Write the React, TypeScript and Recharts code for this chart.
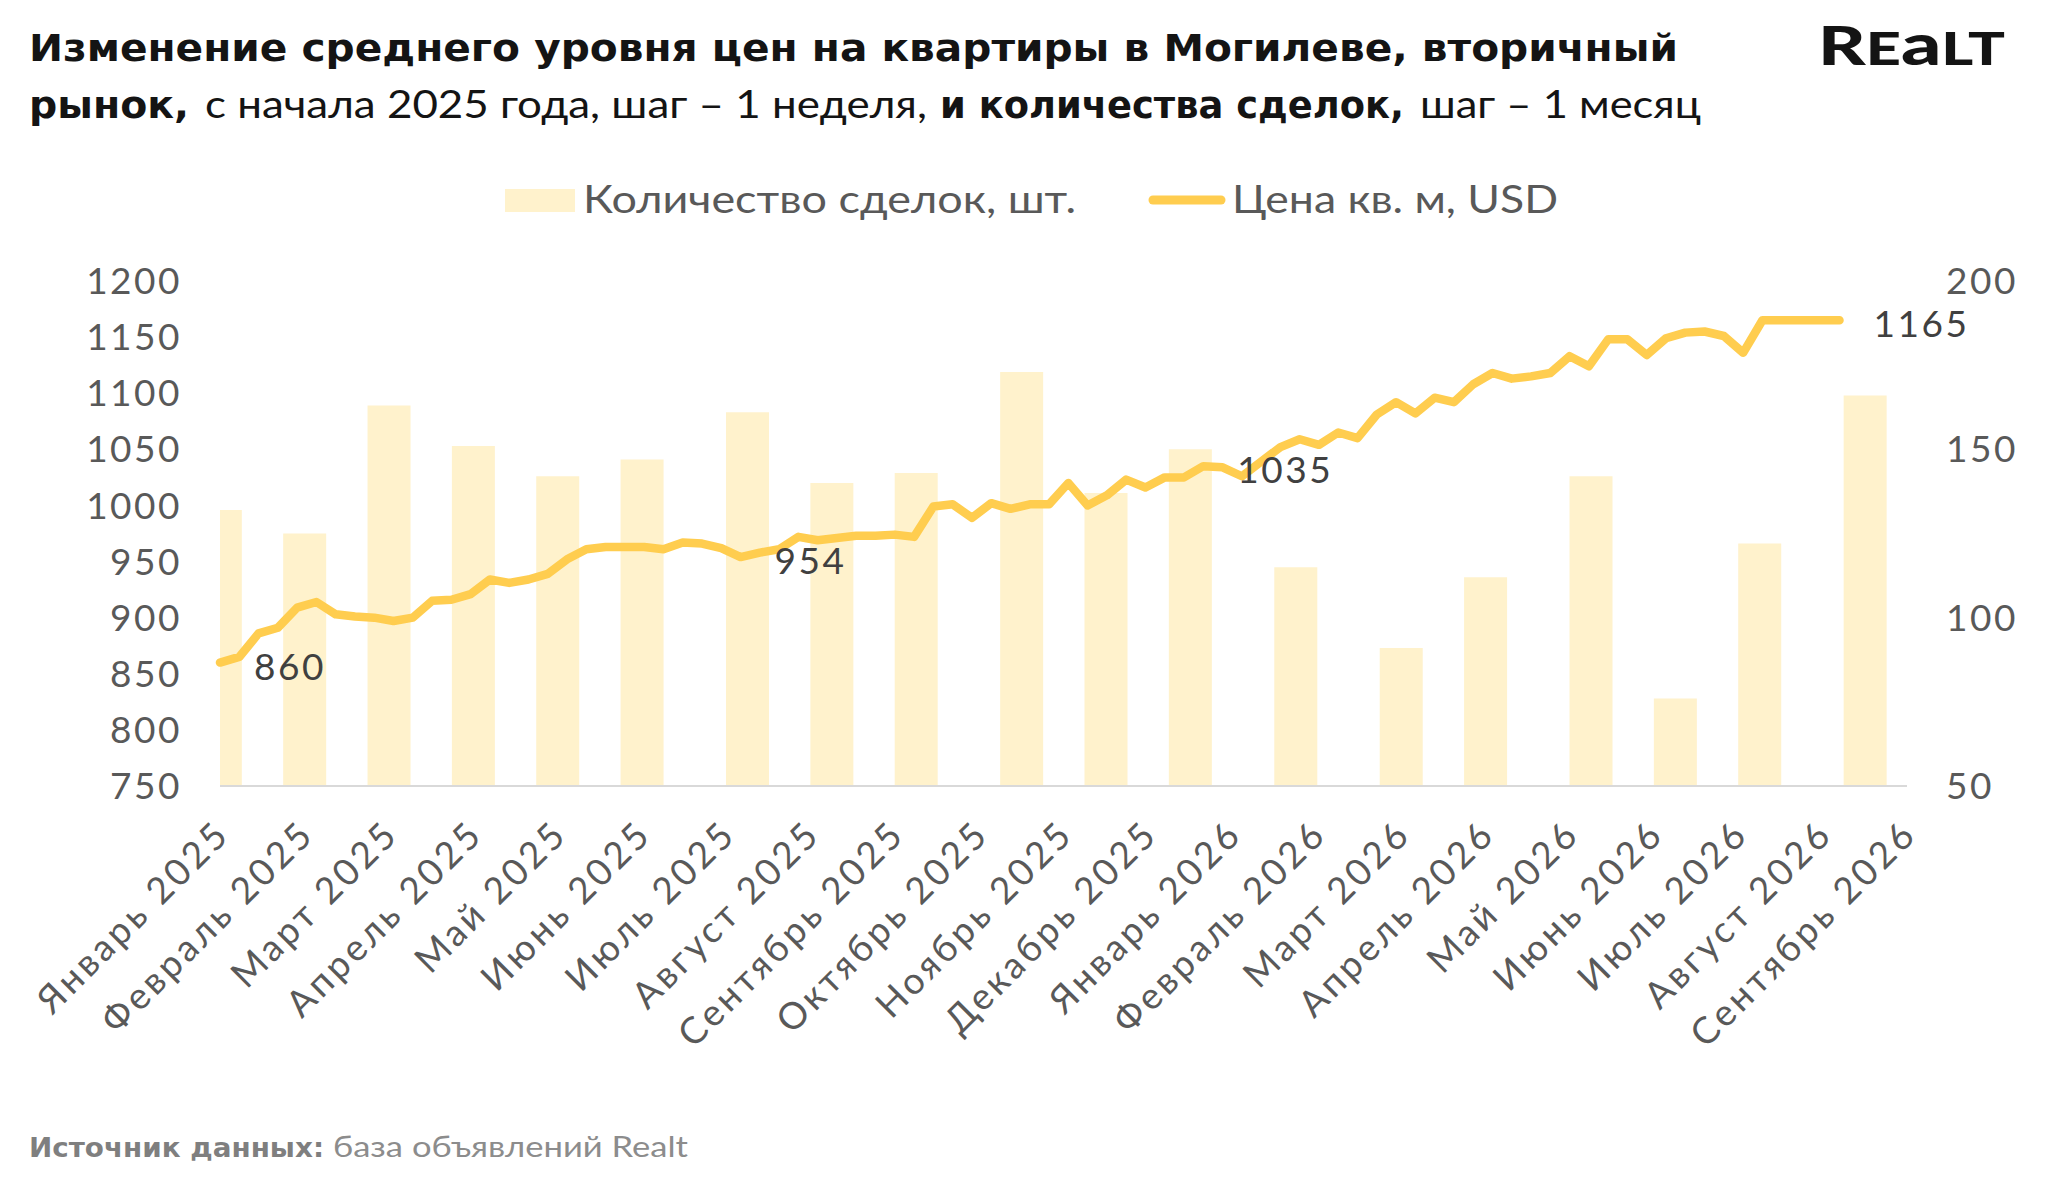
import React from 'react';
import { ComposedChart, Bar, Line, XAxis, YAxis, LabelList } from 'recharts';

// month captions under the axis, one every 4 weekly slots
const MONTH_LABELS = [
  'Январь 2025', 'Февраль 2025', 'Март 2025', 'Апрель 2025', 'Май 2025', 'Июнь 2025',
  'Июль 2025', 'Август 2025', 'Сентябрь 2025', 'Октябрь 2025', 'Ноябрь 2025', 'Декабрь 2025',
  'Январь 2026', 'Февраль 2026', 'Март 2026', 'Апрель 2026', 'Май 2026', 'Июнь 2026',
  'Июль 2026', 'Август 2026', 'Сентябрь 2026',
];
const SLOTS_PER_LABEL = 4;

// monthly deals, placed on the weekly slot where each month starts
const DEAL_SLOTS = [0, 4, 8, 12, 16, 20, 25, 29, 33, 38, 42, 46, 51, 56, 60, 65, 69, 73, 78];
const DEAL_COUNTS = [132, 125, 163, 151, 142, 147, 161, 140, 143, 173, 137, 150, 115, 91, 112, 142, 76, 122, 166];

// weekly price per sq. m, USD
const PRICE_USD = [
  860, 865, 886, 891, 909, 914, 903, 901, 900, 897,
  900, 915, 916, 921, 934, 931, 934, 939, 952, 961,
  963, 963, 963, 961, 967, 966, 962, 954, 958, 961,
  972, 969, 971, 973, 973, 974, 972, 999, 1001, 989,
  1002, 997, 1001, 1001, 1020, 1000, 1009, 1023, 1016, 1025,
  1025, 1035, 1034, 1026, 1039, 1052, 1059, 1054, 1065, 1060,
  1081, 1092, 1082, 1096, 1092, 1108, 1118, 1113, 1115, 1118,
  1133, 1124, 1148, 1148, 1134, 1149, 1154, 1155, 1151, 1136,
  1165, 1165, 1165, 1165, 1165,
];
const PRICE_TAG_WEEKS = [0, 27, 51, 84];

const PRICE_TICKS = [750, 800, 850, 900, 950, 1000, 1050, 1100, 1150, 1200];
const DEAL_TICKS = [50, 100, 150, 200];

const dealData = DEAL_SLOTS.map((slot, i) => ({ slot, deals: DEAL_COUNTS[i] }));
const priceData = PRICE_USD.map((price, week) => ({
  week,
  price,
  tag: PRICE_TAG_WEEKS.includes(week) ? price : null,
}));
const monthTicks = MONTH_LABELS.map((_, i) => i * SLOTS_PER_LABEL);

const GRAY = '#595959';
const BAR_COLOR = '#FFF2CC';
const LINE_COLOR = '#FFCD4F';
const FONT = 'Lato, sans-serif';
const BOLD_FONT = '"DejaVu Sans", sans-serif';

function MonthTick({ x, y, payload }: any) {
  const label = MONTH_LABELS[Math.round(payload.value / SLOTS_PER_LABEL)];
  const ax = x + 12;
  const ay = y + 50;
  return (
    <text
      x={ax}
      y={ay}
      transform={`rotate(-45 ${ax} ${ay})`}
      textAnchor="end"
      fill={GRAY}
      fontSize={37}
      letterSpacing={3.5}
      fontFamily={FONT}
    >
      {label}
    </text>
  );
}

function PriceTag({ x, y, value }: any) {
  if (value == null) return null;
  return (
    <text x={x + 34} y={y + 17} fill="#404040" fontSize={37} letterSpacing={2.5} fontFamily={FONT}>
      {value}
    </text>
  );
}

// text squeezed/stretched to the width it takes in the original picture
function Fit({ x, y, w, size, bold, fill, children }: any) {
  return (
    <text
      x={x}
      y={y}
      textLength={w}
      lengthAdjust="spacingAndGlyphs"
      fontSize={size}
      fontFamily={bold ? BOLD_FONT : FONT}
      fontWeight={bold ? 700 : 400}
      fill={fill}
    >
      {children}
    </text>
  );
}

export default function App() {
  return (
    <div
      style={{
        position: 'absolute',
        left: 0,
        top: 0,
        width: 2048,
        height: 1185,
        background: '#fff',
        overflow: 'hidden',
      }}
    >
      <ComposedChart
        width={2048}
        height={1185}
        data={dealData}
        margin={{ top: 281, right: 0, bottom: 99, left: 0 }}
        style={{ position: 'absolute', left: 0, top: 0 }}
      >
        <XAxis
          xAxisId="slot"
          dataKey="slot"
          type="number"
          domain={[0, 80]}
          allowDataOverflow
          ticks={monthTicks}
          interval={0}
          height={300}
          tickLine={false}
          tickSize={0}
          tickMargin={0}
          axisLine={{ stroke: '#D9D9D9', strokeWidth: 2 }}
          tick={<MonthTick />}
        />
        <XAxis xAxisId="week" dataKey="week" type="number" domain={[0, 87.5]} hide />
        <YAxis
          yAxisId="price"
          orientation="left"
          width={220}
          domain={[750, 1200]}
          ticks={PRICE_TICKS}
          interval={0}
          tickLine={false}
          axisLine={false}
          tickSize={0}
          tickMargin={38}
          tick={{ fill: GRAY, fontSize: 37, fontFamily: FONT, letterSpacing: 2.5 }}
        />
        <YAxis
          yAxisId="deals"
          orientation="right"
          width={141}
          domain={[50, 200]}
          ticks={DEAL_TICKS}
          interval={0}
          tickLine={false}
          axisLine={false}
          tickSize={0}
          tickMargin={39}
          tick={{ fill: GRAY, fontSize: 37, fontFamily: FONT, letterSpacing: 2.5, textAnchor: 'start' }}
        />
        <Bar
          xAxisId="slot"
          yAxisId="deals"
          dataKey="deals"
          fill={BAR_COLOR}
          barSize={43}
          isAnimationActive={false}
        />
        <Line
          xAxisId="week"
          yAxisId="price"
          data={priceData}
          dataKey="price"
          type="linear"
          stroke={LINE_COLOR}
          strokeWidth={8.5}
          strokeLinejoin="round"
          strokeLinecap="round"
          dot={false}
          activeDot={false}
          isAnimationActive={false}
        >
          <LabelList dataKey="tag" content={<PriceTag />} />
        </Line>
      </ComposedChart>

      <svg width={2048} height={1185} style={{ position: 'absolute', left: 0, top: 0, pointerEvents: 'none' }}>
        {/* title */}
        <Fit x={29} y={61} w={1649} size={37} bold fill="#141414">
          Изменение среднего уровня цен на квартиры в Могилеве, вторичный
        </Fit>
        <Fit x={29} y={118} w={160} size={37} bold fill="#141414">рынок,</Fit>
        <Fit x={205} y={118} w={722} size={38} fill="#141414">с начала 2025 года, шаг – 1 неделя,</Fit>
        <Fit x={940} y={118} w={464} size={37} bold fill="#141414">и количества сделок,</Fit>
        <Fit x={1420} y={118} w={281} size={38} fill="#141414">шаг – 1 месяц</Fit>

        {/* logo */}
        <text x={1818} y={65} fontFamily={FONT} fontWeight={900} fill="#141414" textLength={187} lengthAdjust="spacingAndGlyphs">
          <tspan fontSize={54}>R</tspan>
          <tspan fontSize={45}>E</tspan>
          <tspan fontSize={58}>a</tspan>
          <tspan fontSize={45}>LT</tspan>
        </text>

        {/* legend */}
        <rect x={505} y={189} width={70} height={23} fill={BAR_COLOR} />
        <Fit x={583} y={213} w={493} size={38} fill={GRAY}>Количество сделок, шт.</Fit>
        <line x1={1153} y1={200} x2={1221} y2={200} stroke={LINE_COLOR} strokeWidth={9} strokeLinecap="round" />
        <Fit x={1232} y={213} w={326} size={38} fill={GRAY}>Цена кв. м, USD</Fit>

        {/* source */}
        <Fit x={29} y={1157} w={295} size={26} bold fill="#7F7F7F">Источник данных:</Fit>
        <Fit x={333} y={1157} w={355} size={28} fill="#8C8C8C">база объявлений Realt</Fit>
      </svg>
    </div>
  );
}
